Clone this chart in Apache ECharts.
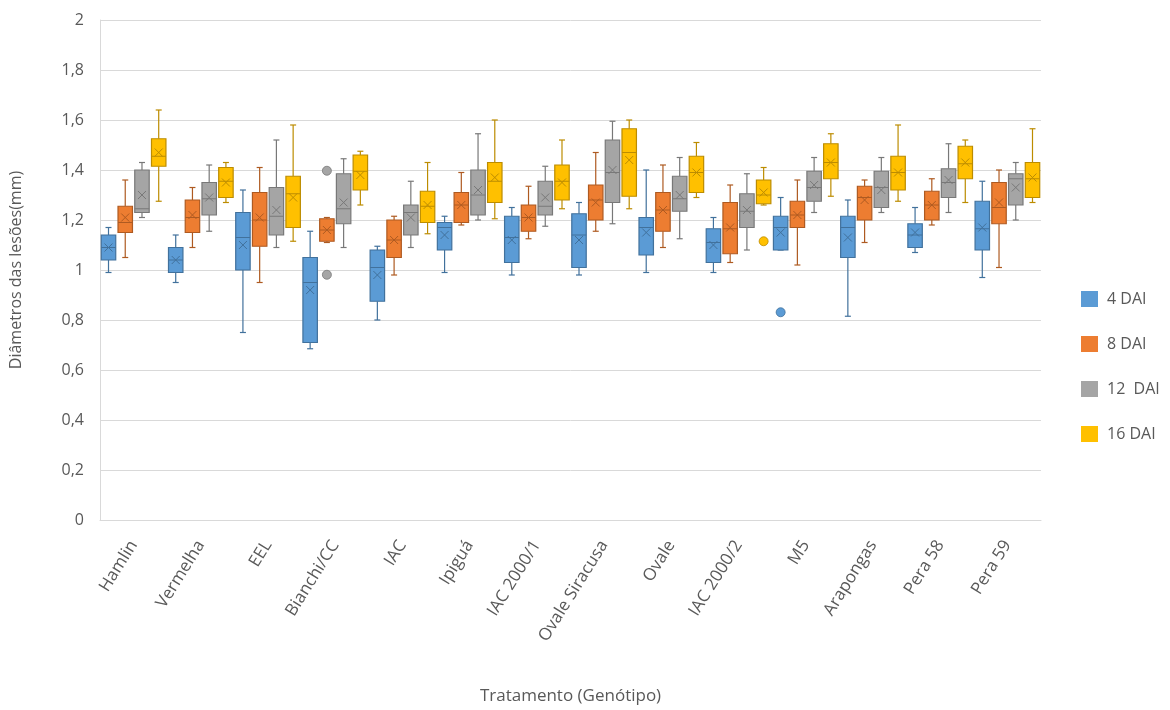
<!DOCTYPE html>
<html>
<head>
<meta charset="utf-8">
<script src="https://cdn.jsdelivr.net/npm/echarts@6/dist/echarts.min.js"></script>
<style>
html,body{margin:0;padding:0;background:#fff;}
#chart{width:1170px;height:710px;}
</style>
</head>
<body>
<div id="chart"></div>
<script>
// Categories (genotypes)
var categories = ['Hamlin','Vermelha','EEL','Bianchi/CC','IAC','Ipiguá','IAC 2000/1','Ovale Siracusa','Ovale','IAC 2000/2','M5','Arapongas','Pera 58','Pera 59'];
var seriesNames = ['4 DAI','8 DAI','12  DAI','16 DAI'];
// [min, Q1, median, Q3, max]
var dai4 = [
  [0.99,1.04,1.09,1.14,1.17],[0.95,0.99,1.04,1.09,1.14],[0.75,1.00,1.13,1.23,1.32],[0.685,0.71,0.95,1.05,1.155],
  [0.80,0.875,1.01,1.08,1.095],[0.99,1.08,1.17,1.19,1.215],[0.98,1.03,1.13,1.215,1.25],[0.98,1.01,1.14,1.225,1.27],
  [0.99,1.06,1.17,1.21,1.40],[0.99,1.03,1.11,1.165,1.21],[1.08,1.08,1.17,1.215,1.29],[0.815,1.05,1.17,1.215,1.28],
  [1.07,1.09,1.14,1.185,1.25],[0.97,1.08,1.165,1.275,1.355]
];
var dai4Mean = [1.09,1.04,1.10,0.92,0.98,1.14,1.12,1.12,1.15,1.10,1.15,1.13,1.15,1.17];
var dai8 = [
  [1.05,1.15,1.19,1.255,1.36],[1.09,1.15,1.21,1.28,1.33],[0.95,1.095,1.20,1.31,1.41],[1.11,1.115,1.16,1.205,1.21],
  [0.98,1.05,1.12,1.20,1.215],[1.18,1.19,1.26,1.31,1.39],[1.125,1.155,1.21,1.26,1.335],[1.155,1.20,1.28,1.34,1.47],
  [1.09,1.155,1.24,1.31,1.42],[1.03,1.065,1.165,1.27,1.34],[1.02,1.17,1.22,1.275,1.36],[1.11,1.20,1.29,1.335,1.36],
  [1.18,1.20,1.26,1.315,1.365],[1.01,1.185,1.25,1.35,1.40]
];
var dai8Mean = [1.21,1.22,1.21,1.16,1.12,1.26,1.21,1.27,1.24,1.17,1.22,1.28,1.26,1.27];
var dai12 = [
  [1.21,1.23,1.245,1.40,1.43],[1.155,1.22,1.285,1.35,1.42],[1.09,1.14,1.215,1.33,1.52],[1.09,1.185,1.245,1.385,1.445],
  [1.09,1.14,1.23,1.26,1.355],[1.20,1.22,1.30,1.40,1.545],[1.175,1.22,1.255,1.355,1.415],[1.185,1.27,1.39,1.52,1.595],
  [1.125,1.235,1.285,1.375,1.45],[1.08,1.17,1.235,1.305,1.385],[1.23,1.275,1.33,1.395,1.45],[1.23,1.25,1.33,1.395,1.45],
  [1.23,1.29,1.35,1.405,1.505],[1.20,1.26,1.365,1.385,1.43]
];
var dai12Mean = [1.30,1.29,1.24,1.27,1.21,1.32,1.29,1.40,1.30,1.24,1.34,1.32,1.36,1.33];
var dai16 = [
  [1.275,1.415,1.455,1.525,1.64],[1.27,1.29,1.355,1.41,1.43],[1.115,1.17,1.305,1.375,1.58],[1.26,1.32,1.395,1.46,1.475],
  [1.145,1.19,1.255,1.315,1.43],[1.205,1.27,1.355,1.43,1.60],[1.245,1.28,1.355,1.42,1.52],[1.245,1.295,1.47,1.565,1.60],
  [1.29,1.31,1.39,1.455,1.51],[1.26,1.265,1.30,1.36,1.41],[1.295,1.365,1.43,1.505,1.545],[1.275,1.32,1.39,1.455,1.58],
  [1.27,1.365,1.425,1.495,1.52],[1.27,1.29,1.365,1.43,1.565]
];
var dai16Mean = [1.47,1.35,1.29,1.38,1.26,1.37,1.35,1.44,1.39,1.31,1.43,1.39,1.43,1.37];
// Outliers: [categoryIndex, value, slot (box position), colourIndex]
var outliers = [[3,1.397,1,2],[3,0.981,1,2],[9,1.115,3,3],[10,0.831,0,0]];
var yTicks = ['0','0,2','0,4','0,6','0,8','1','1,2','1,4','1,6','1,8','2'];

var fills = ['#5B9BD5','#ED7D31','#A5A5A5','#FFC000'];
var strokes = ['#41719C','#AE5A21','#787878','#BC8C00'];

var allBoxes = [dai4, dai8, dai12, dai16];
var allMeans = [dai4Mean, dai8Mean, dai12Mean, dai16Mean];

function makeRender(slot){
  return function(params, api){
    var idx = api.value(0);
    var band = api.size([1,0])[0];
    var cx = api.coord([idx,0])[0] + (slot-1.5)*band*0.249;
    var bw = band*0.215;
    var Y = function(v){ return api.coord([idx,v])[1]; };
    var yMin=Y(api.value(1)), yQ1=Y(api.value(2)), yMed=Y(api.value(3)), yQ3=Y(api.value(4)), yMax=Y(api.value(5)), yMean=Y(api.value(6));
    var st = strokes[slot], fl = fills[slot];
    var lw = {stroke: st, lineWidth: 1.2};
    var cap = 3;
    var m = 4;
    return {type:'group', children:[
      {type:'line', shape:{x1:cx,y1:yQ3,x2:cx,y2:yMax}, style:lw},
      {type:'line', shape:{x1:cx,y1:yQ1,x2:cx,y2:yMin}, style:lw},
      {type:'line', shape:{x1:cx-cap,y1:yMax,x2:cx+cap,y2:yMax}, style:lw},
      {type:'line', shape:{x1:cx-cap,y1:yMin,x2:cx+cap,y2:yMin}, style:lw},
      {type:'rect', shape:{x:cx-bw/2,y:yQ3,width:bw,height:Math.max(yQ1-yQ3,1)}, style:{fill:fl, stroke:st, lineWidth:1.2}},
      {type:'line', shape:{x1:cx-bw/2,y1:yMed,x2:cx+bw/2,y2:yMed}, style:{stroke:st,lineWidth:1}},
      {type:'line', shape:{x1:cx-m,y1:yMean-m,x2:cx+m,y2:yMean+m}, style:{stroke:st,lineWidth:1}},
      {type:'line', shape:{x1:cx-m,y1:yMean+m,x2:cx+m,y2:yMean-m}, style:{stroke:st,lineWidth:1}}
    ]};
  };
}

var series = allBoxes.map(function(arr, s){
  return {
    name: seriesNames[s],
    type: 'custom',
    renderItem: makeRender(s),
    itemStyle: {color: fills[s], borderColor: strokes[s]},
    encode: {x: 0, y: [1,2,3,4,5,6]},
    data: arr.map(function(b,i){ return [i].concat(b).concat([allMeans[s][i]]); }),
    z: 2
  };
});
series.push({
  name: 'outliers',
  type: 'custom',
  renderItem: function(params, api){
    var idx = api.value(0);
    var slot = api.value(2);
    var band = api.size([1,0])[0];
    var cx = api.coord([idx,0])[0] + (slot-1.5)*band*0.249;
    var cy = api.coord([idx, api.value(1)])[1];
    var c = api.value(3);
    return {type:'circle', shape:{cx:cx, cy:cy, r:4.5}, style:{fill: fills[c], stroke: strokes[c], lineWidth:0.8}};
  },
  encode: {x:0, y:1},
  data: outliers,
  z: 3
});

var chart = echarts.init(document.getElementById('chart'), null, {renderer:'canvas'});
chart.setOption({
  animation: false,
  backgroundColor: '#ffffff',
  textStyle: {fontFamily: 'Open Sans', color:'#595959'},
  grid: {left: 97, right: 129, top: 20, bottom: 189, containLabel: false},
  legend: {
    data: seriesNames,
    orient: 'vertical',
    left: 1076, top: 286,
    itemWidth: 17, itemHeight: 16, itemGap: 29,
    icon: 'rect',
    textStyle: {fontSize: 16, color: '#595959', fontFamily: 'Open Sans', padding:[0,0,0,4]}
  },
  xAxis: {
    type: 'category',
    data: categories,
    name: 'Tratamento (Genótipo)',
    nameLocation: 'middle',
    nameGap: 168,
    nameTextStyle: {fontSize: 17, color: '#595959', fontFamily: 'Open Sans'},
    axisLine: {lineStyle: {color: '#d9d9d9', width: 1}},
    axisTick: {show: false},
    axisLabel: {rotate: 58, fontSize: 17, color: '#595959', margin: 22, interval: 0, fontFamily:'Open Sans'},
    splitLine: {show: false}
  },
  yAxis: {
    type: 'value',
    min: 0, max: 2, interval: 0.2,
    name: 'Diâmetros das lesões(mm)',
    nameLocation: 'middle',
    nameGap: 76,
    nameTextStyle: {fontSize: 16, color: '#595959', fontFamily: 'Open Sans'},
    axisLine: {show: true, lineStyle: {color: '#d9d9d9'}},
    axisTick: {show: false},
    axisLabel: {fontSize: 16, color: '#595959', margin: 16, fontFamily:'Open Sans',
      formatter: function(v){ var i = Math.round(v/0.2); return yTicks[i]; }},
    splitLine: {lineStyle: {color: '#d9d9d9', width: 1}}
  },
  series: series
});
</script>
</body>
</html>
